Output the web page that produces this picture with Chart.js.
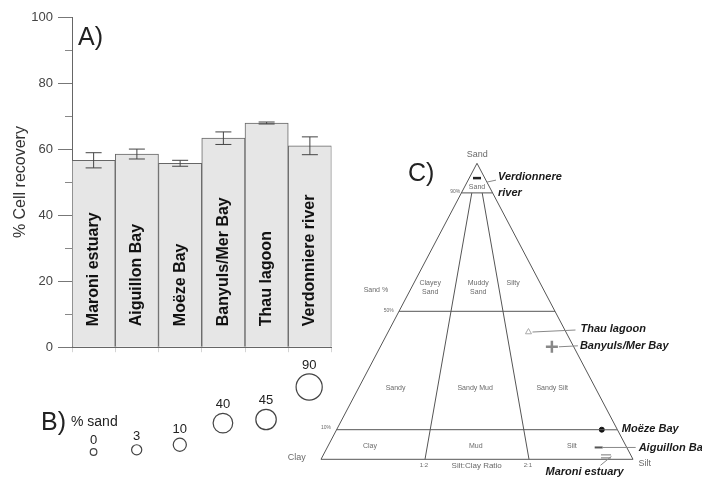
<!DOCTYPE html>
<html>
<head>
<meta charset="utf-8">
<script src="https://cdn.jsdelivr.net/npm/chart.js@4.4.0/dist/chart.umd.min.js"></script>
<style>
  body { margin: 0; background: #fff; }
  #fig { position: relative; width: 702px; height: 479px; overflow: hidden; font-family: "Liberation Sans", Arial, sans-serif; color: #222; }
  .box { position: absolute; }
  .tag { position: absolute; font-size: 25px; line-height: 1; white-space: nowrap; }
</style>
</head>
<body>
<div id="fig">
  <div class="box" style="left:0;top:0;width:345px;height:360px"><canvas id="chartA"></canvas></div>
  <div class="box" style="left:0;top:355px;width:345px;height:124px"><canvas id="chartB"></canvas></div>
  <div class="box" style="left:280px;top:130px;width:422px;height:349px"><canvas id="chartC"></canvas></div>
  <div class="tag" style="left:78px;top:24px">A)</div>
  <div class="tag" style="left:41px;top:409px">B)</div>
  <div class="tag" style="left:71px;top:414px;font-size:14px">% sand</div>
  <div class="tag" style="left:408px;top:160px">C)</div>
</div>
<script>
// sites, in the order of the bars
const sites = ['Maroni estuary', 'Aiguillon Bay', 'Moëze Bay', 'Banyuls/Mer Bay', 'Thau lagoon', 'Verdonniere river'];
// A) cell recovery (%) with error
const recovery = [56.6, 58.5, 55.7, 63.3, 67.9, 61.0];
const recoveryErr = [2.3, 1.5, 0.9, 1.9, 0.3, 2.7];
// B) % sand
const sandPct = [0, 3, 10, 40, 45, 90];
// C) sediment composition of each site (sand %, silt %)
const sampleSand = [1, 4, 10, 38, 43, 95];
const sampleSilt = [91, 87, 85, 55, 45, 2.5];
const sampleNames = ['Maroni estuary', 'Aiguillon Bay', 'Moëze Bay', 'Banyuls/Mer Bay', 'Thau lagoon', ['Verdionnere', 'river']];
// C) class limits of the diagram
const sandLimits = [90, 50, 10];
const siltFractions = [1 / 3, 2 / 3]; // silt:clay 1:2 and 2:1

Chart.defaults.font.family = '"Liberation Sans", Arial, sans-serif';
Chart.defaults.events = [];

// ---------- A) bars ----------
const errorBars = {
  id: 'errorBars',
  afterDatasetsDraw(chart) {
    const { ctx, scales: { y } } = chart;
    ctx.save();
    ctx.strokeStyle = '#444';
    ctx.lineWidth = 1;
    chart.getDatasetMeta(0).data.forEach((bar, i) => {
      const lo = y.getPixelForValue(recovery[i] - recoveryErr[i]);
      const hi = y.getPixelForValue(recovery[i] + recoveryErr[i]);
      ctx.beginPath();
      ctx.moveTo(bar.x, lo); ctx.lineTo(bar.x, hi);
      ctx.moveTo(bar.x - 8, lo); ctx.lineTo(bar.x + 8, lo);
      ctx.moveTo(bar.x - 8, hi); ctx.lineTo(bar.x + 8, hi);
      ctx.stroke();
    });
    ctx.restore();
  }
};

const barLabels = {
  id: 'barLabels',
  afterDatasetsDraw(chart) {
    const { ctx } = chart;
    const base = chart.scales.y.getPixelForValue(0);
    ctx.save();
    ctx.fillStyle = '#111';
    ctx.font = 'bold 16px "Liberation Sans", Arial, sans-serif';
    ctx.textAlign = 'left';
    ctx.textBaseline = 'middle';
    chart.getDatasetMeta(0).data.forEach((bar, i) => {
      ctx.save();
      ctx.translate(bar.x, base - 21);
      ctx.rotate(-Math.PI / 2);
      ctx.fillText(sites[i], 0, 0);
      ctx.restore();
    });
    ctx.restore();
  }
};

// short ticks between the labelled ones
const minorTicks = {
  id: 'minorTicks',
  afterDraw(chart) {
    const { ctx, scales: { y }, chartArea } = chart;
    ctx.save();
    ctx.strokeStyle = '#888';
    ctx.lineWidth = 1;
    for (let v = 10; v < 100; v += 20) {
      const py = Math.round(y.getPixelForValue(v)) + 0.5;
      ctx.beginPath();
      ctx.moveTo(chartArea.left - 7, py);
      ctx.lineTo(chartArea.left, py);
      ctx.stroke();
    }
    ctx.restore();
  }
};

new Chart(document.getElementById('chartA'), {
  type: 'bar',
  data: {
    labels: sites,
    datasets: [{
      data: recovery,
      backgroundColor: '#e6e6e6',
      borderColor: '#666',
      borderWidth: 1,
      barPercentage: 1,
      categoryPercentage: 1
    }]
  },
  options: {
    responsive: true,
    maintainAspectRatio: false,
    animation: false,
    layout: { padding: { top: 17, right: 13.5, bottom: 0, left: 0 } },
    plugins: { legend: { display: false }, tooltip: { enabled: false } },
    scales: {
      x: {
        grid: { drawOnChartArea: false, offset: true, tickLength: 5, color: '#d4d4d4' },
        ticks: { display: false },
        border: { color: '#666' },
        afterFit: s => { s.height = 12; }
      },
      y: {
        min: 0,
        max: 100,
        ticks: { stepSize: 20, padding: 5, color: '#444', font: { size: 13 } },
        grid: { drawOnChartArea: false, tickLength: 14, color: '#777' },
        border: { color: '#666' },
        title: { display: true, text: '% Cell recovery', color: '#333', font: { size: 16 }, padding: { top: 11, bottom: 0 } },
        afterFit: s => { s.width = 72; }
      }
    }
  },
  plugins: [errorBars, barLabels, minorTicks]
});

// ---------- B) sand bubbles ----------
const bubbleLabels = {
  id: 'bubbleLabels',
  afterDatasetsDraw(chart) {
    const { ctx } = chart;
    ctx.save();
    ctx.fillStyle = '#222';
    ctx.font = '13px "Liberation Sans", Arial, sans-serif';
    ctx.textAlign = 'center';
    ctx.textBaseline = 'bottom';
    chart.getDatasetMeta(0).data.forEach((pt, i) => {
      ctx.fillText(String(sandPct[i]), pt.x, pt.y - pt.options.radius - 2);
    });
    ctx.restore();
  }
};

new Chart(document.getElementById('chartB'), {
  type: 'bubble',
  data: {
    datasets: [{
      data: sites.map((s, i) => ({ x: s, y: sandPct[i] })),
      backgroundColor: 'rgba(255,255,255,0)',
      borderColor: '#444',
      borderWidth: 1.2,
      clip: false,
      radius: ctx => 3.3 + Math.sqrt(sandPct[ctx.dataIndex]) * 1.03
    }]
  },
  options: {
    responsive: true,
    maintainAspectRatio: false,
    animation: false,
    layout: { padding: { top: 24.8, right: 13.5, bottom: 27, left: 72 } },
    plugins: { legend: { display: false }, tooltip: { enabled: false } },
    scales: {
      x: { type: 'category', labels: sites, offset: true, display: false },
      y: { min: 0, max: 100, display: false }
    }
  },
  plugins: [bubbleLabels]
});

// ---------- C) ternary diagram ----------
// sand on the vertical, silt to the right, clay to the left
const tern = (sand, silt) => ({ x: silt + sand / 2, y: sand });

const lineSets = [];
lineSets.push([tern(100, 0), tern(0, 0), tern(0, 100), tern(100, 0)]);
sandLimits.forEach(s => lineSets.push([tern(s, 0), tern(s, 100 - s)]));
siltFractions.forEach(f => lineSets.push([tern(90, 10 * f), tern(0, 100 * f)]));

// "=" marker for Maroni estuary
const eqMark = document.createElement('canvas');
eqMark.width = 10; eqMark.height = 6;
(() => {
  const c = eqMark.getContext('2d');
  c.strokeStyle = '#777'; c.lineWidth = 1.2;
  c.beginPath();
  c.moveTo(0, 1.5); c.lineTo(10, 1.5);
  c.moveTo(0, 4.5); c.lineTo(10, 4.5);
  c.stroke();
})();

// text inside the diagram, in diagram units [text, x, y, size, align]
const zoneText = [
  ['Sand', 50, 92, 7, 'center'],
  ['Clayey', 35, 59.6, 7, 'center'], ['Sand', 35, 56.6, 7, 'center'],
  ['Muddy', 50.4, 59.6, 7, 'center'], ['Sand', 50.4, 56.6, 7, 'center'],
  ['Silty', 61.6, 59.6, 7, 'center'],
  ['Sandy', 23.9, 24, 7, 'center'], ['Sandy Mud', 49.4, 24, 7, 'center'], ['Sandy Silt', 74.1, 24, 7, 'center'],
  ['Clay', 15.7, 4.6, 7, 'center'], ['Mud', 49.6, 4.6, 7, 'center'], ['Silt', 80.4, 4.6, 7, 'center'],
  ['Sand %', 17.6, 57.2, 7, 'center'],
  ['90%', 44.6, 90.5, 5, 'right'], ['50%', 23.3, 50.3, 5, 'right'], ['10%', 3.2, 10.6, 5, 'right'],
  ['1:2', 33.0, -2.2, 6, 'center'], ['Silt:Clay Ratio', 49.9, -2.2, 8, 'center'], ['2:1', 66.3, -2.2, 6, 'center'],
  ['Sand', 50.1, 103, 9, 'center'], ['Clay', -7.8, 0.6, 9, 'center'], ['Silt', 103.8, -1.4, 9, 'center']
];

// leader line [x1, y1, x2, y2] and text start [dx, dy], pixels from the marker
const callouts = [
  { lead: [5, 0, -6, 9], text: [-61, 16] },
  { lead: [4, 0, 37, 0], text: [40, 1] },
  { lead: [3, 0, 16, 0], text: [20, -1] },
  { lead: [7, 0, 26, -1], text: [28, -1] },
  { lead: [4, 0, 47, -2], text: [52, -3] },
  { lead: [10, 4, 19, 2], text: [21, -1] }
];

const ternText = {
  id: 'ternText',
  afterDraw(chart) {
    const { ctx, scales: { x, y } } = chart;
    ctx.save();
    ctx.fillStyle = '#6a6a6a';
    ctx.textBaseline = 'middle';
    zoneText.forEach(([t, tx, ty, size, align]) => {
      ctx.font = size + 'px "Liberation Sans", Arial, sans-serif';
      ctx.textAlign = align;
      ctx.fillText(t, x.getPixelForValue(tx), y.getPixelForValue(ty));
    });
    const meta = chart.getDatasetMeta(lineSets.length);
    ctx.font = 'bold italic 11px "Liberation Sans", Arial, sans-serif';
    ctx.textAlign = 'left';
    meta.data.forEach((pt, i) => {
      const c = callouts[i];
      ctx.strokeStyle = '#888';
      ctx.lineWidth = 1;
      ctx.beginPath();
      ctx.moveTo(pt.x + c.lead[0], pt.y + c.lead[1]);
      ctx.lineTo(pt.x + c.lead[2], pt.y + c.lead[3]);
      ctx.stroke();
      ctx.fillStyle = '#1a1a1a';
      const lines = [].concat(sampleNames[i]);
      lines.forEach((l, k) => ctx.fillText(l, pt.x + c.text[0], pt.y + c.text[1] + k * 15.5));
    });
    ctx.restore();
  }
};

new Chart(document.getElementById('chartC'), {
  type: 'scatter',
  data: {
    datasets: lineSets.map(pts => ({
      data: pts,
      showLine: true,
      pointRadius: 0,
      borderColor: '#555',
      borderWidth: 1,
      clip: false
    })).concat([{
      data: sampleSand.map((s, i) => tern(s, sampleSilt[i])),
      pointStyle: [eqMark, 'line', 'circle', 'cross', 'triangle', 'line'],
      pointRadius: [5, 4, 2.5, 6, 3.5, 4],
      borderColor: ['#777', '#555', '#111', '#888', '#aaa', '#222'],
      backgroundColor: ['#777', '#555', '#111', '#888', 'rgba(0,0,0,0)', '#222'],
      borderWidth: [1, 2, 1, 2.5, 1, 2.5],
      clip: false
    }])
  },
  options: {
    responsive: true,
    maintainAspectRatio: false,
    animation: false,
    layout: { padding: { top: 33.3, right: 69, bottom: 19.7, left: 41 } },
    plugins: { legend: { display: false }, tooltip: { enabled: false } },
    scales: {
      x: { min: 0, max: 100, display: false },
      y: { min: 0, max: 100, display: false }
    }
  },
  plugins: [ternText]
});
</script>
</body>
</html>
